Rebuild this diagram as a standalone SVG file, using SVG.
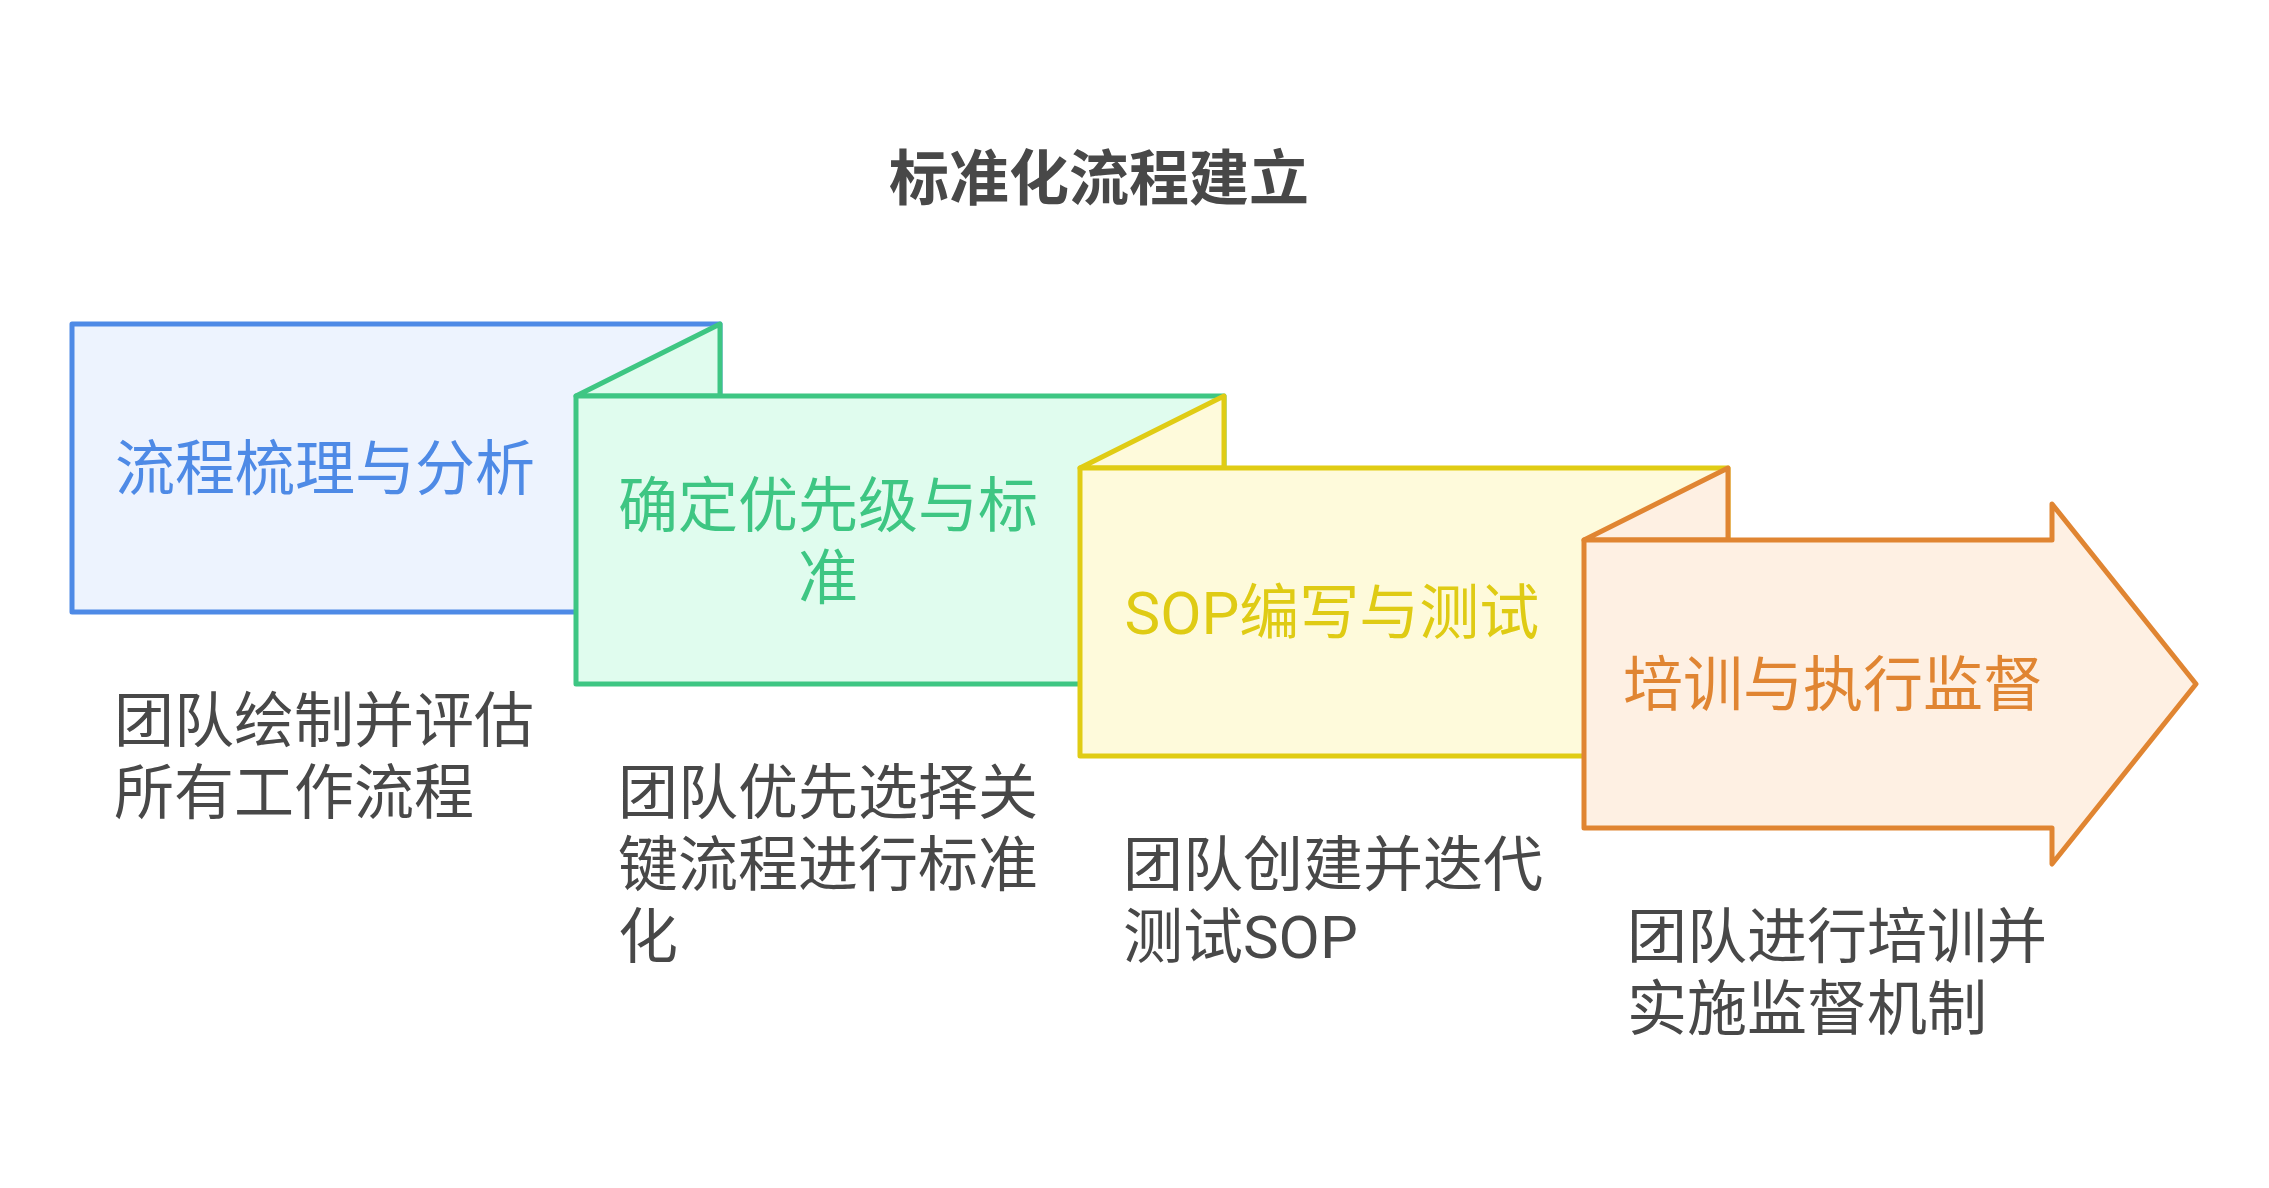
<svg xmlns="http://www.w3.org/2000/svg" width="2269" height="1188" viewBox="0 0 2269 1188">
<style>
text{font-family:"Roboto","Noto Sans CJK SC",sans-serif;font-size:60px}
.title{font-weight:700;fill:#484848;text-anchor:middle}
.lbl{text-anchor:middle}
.desc{fill:#484848}
.shape{stroke-width:5;stroke-linejoin:round}
.blue{fill:#edf3fe;stroke:#4e8ae6}
.green{fill:#e0fcee;stroke:#3ec683}
.yellow{fill:#fefadb;stroke:#e0cc14}
.orange{fill:#fef0e3;stroke:#e08532}
.tblue{fill:#4e8ae6}
.tgreen{fill:#3ec683}
.tyellow{fill:#dfcb14}
.torange{fill:#e08532}
</style>
<rect width="2269" height="1188" fill="#ffffff"/>
<text class="title" x="1099" y="200">标准化流程建立</text>
<g id="connectors"></g>
<g id="node1">
<rect class="shape blue" x="72" y="324" width="648" height="288"/>
<text class="lbl tblue" x="325" y="490">流程梳理与分析</text>
<text class="desc" x="114" y="742">团队绘制并评估</text>
<text class="desc" x="114" y="814">所有工作流程</text>
</g>
<g id="node2">
<polygon class="shape green" points="576,396 720,324 720,396"/>
<rect class="shape green" x="576" y="396" width="648" height="288"/>
<text class="lbl tgreen" x="828" y="527">确定优先级与标</text>
<text class="lbl tgreen" x="828" y="599">准</text>
<text class="desc" x="618" y="814">团队优先选择关</text>
<text class="desc" x="618" y="886">键流程进行标准</text>
<text class="desc" x="618" y="958">化</text>
</g>
<g id="node3">
<polygon class="shape yellow" points="1080,468 1224,396 1224,468"/>
<rect class="shape yellow" x="1080" y="468" width="648" height="288"/>
<text class="lbl tyellow" x="1332" y="634">SOP编写与测试</text>
<text class="desc" x="1123" y="886">团队创建并迭代</text>
<text class="desc" x="1123" y="958">测试SOP</text>
</g>
<g id="node4">
<polygon class="shape orange" points="1584,540 1728,468 1728,540"/>
<polygon class="shape orange" points="1584,540 2052,540 2052,504 2196,684 2052,864 2052,828 1584,828"/>
<text class="lbl torange" x="1833" y="706">培训与执行监督</text>
<text class="desc" x="1627" y="958">团队进行培训并</text>
<text class="desc" x="1627" y="1030">实施监督机制</text>
</g>
</svg>
